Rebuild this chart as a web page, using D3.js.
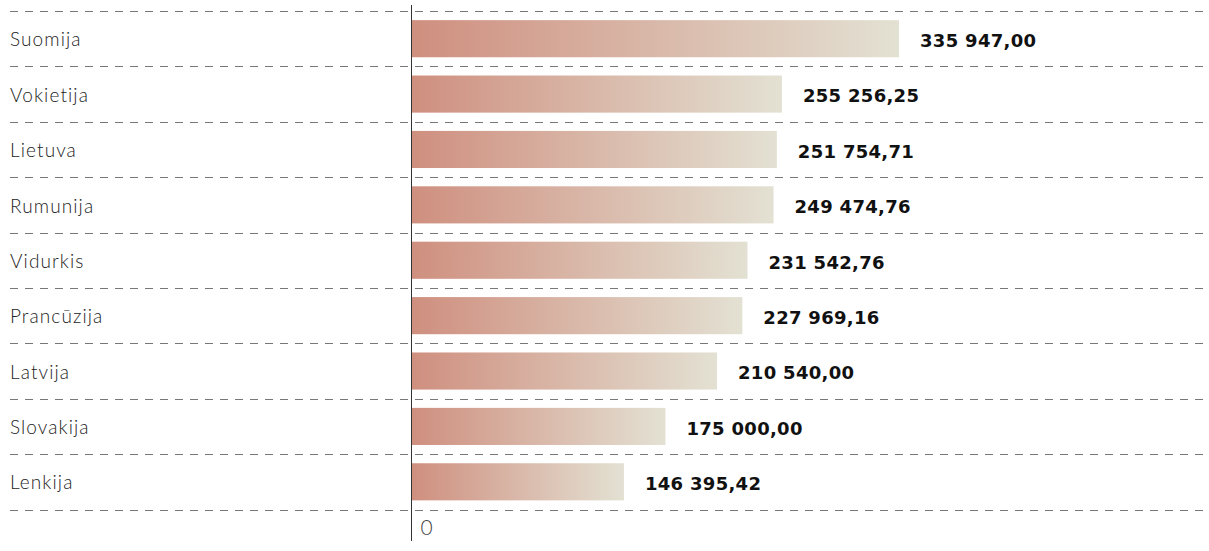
<!DOCTYPE html>
<html>
<head>
<meta charset="utf-8">
<script src="https://cdn.jsdelivr.net/npm/d3@7"></script>
<style>
  body { margin: 0; background: #fff; }
  .cat-label { font-family: Lato, sans-serif; font-weight: 300; font-size: 19px; letter-spacing: 1.1px; fill: #222; }
  .tick-label { font-size: 21px; fill: #444; }
  .val-label { font-family: "DejaVu Sans", sans-serif; font-weight: bold; font-size: 18px; letter-spacing: 0.3px; fill: #111; }
  .grid-line { stroke: #777; stroke-width: 1; stroke-dasharray: 8 7; }
  .axis-line { stroke: #333; stroke-width: 1; }
</style>
</head>
<body>
<svg id="chart"></svg>
<script>
'use strict';

// data
const countries = ['Suomija', 'Vokietija', 'Lietuva', 'Rumunija', 'Vidurkis', 'Prancūzija', 'Latvija', 'Slovakija', 'Lenkija'];
const values = [335947.00, 255256.25, 251754.71, 249474.76, 231542.76, 227969.16, 210540.00, 175000.00, 146395.42];
const xTicks = [0];

(() => {
  const W = 1209, H = 551;
  const svg = d3.select('#chart').attr('width', W).attr('height', H);

  const locale = d3.formatLocale({ decimal: ',', thousands: ' ', grouping: [3], currency: ['', ''] });
  const fmt = locale.format(',.2f');

  const x = d3.scaleLinear().domain([0, 400000]).range([411.5, 992]);
  const rows = d3.scaleBand().domain(countries).range([11, 509.5]);
  const barH = rows.bandwidth() * 0.67;

  //gradient
  const grad = svg.append('defs').append('linearGradient')
    .attr('id', 'barGrad')
    .attr('x1', '0%').attr('x2', '100%').attr('y1', '0%').attr('y2', '0%');
  grad.append('stop').attr('offset', '0%').attr('stop-color', '#cf8f7f');
  grad.append('stop').attr('offset', '100%').attr('stop-color', '#e3e1d3');

  //dashed row lines
  const lineYs = countries.map((c) => rows(c)).concat([rows.range()[1]]);
  svg.selectAll('.grid-line')
    .data(lineYs)
    .join('line')
    .attr('class', 'grid-line')
    .attr('x1', 10)
    .attr('x2', 1203)
    .attr('y1', (d) => Math.round(d) + 0.5)
    .attr('y2', (d) => Math.round(d) + 0.5);

  //bars
  const data = countries.map((c, i) => ({ name: c, value: values[i] }));
  svg.selectAll('.bar')
    .data(data)
    .join('rect')
    .attr('class', 'bar')
    .attr('x', x(0))
    .attr('y', (d) => rows(d.name) + (rows.bandwidth() - barH) / 2)
    .attr('width', (d) => x(d.value) - x(0))
    .attr('height', barH)
    .attr('fill', 'url(#barGrad)');

  //category labels
  svg.selectAll('.cat-label')
    .data(data)
    .join('text')
    .attr('class', 'cat-label')
    .attr('x', 10)
    .attr('y', (d) => rows(d.name) + rows.bandwidth() / 2 + 1)
    .attr('dy', '0.35em')
    .text((d) => d.name);

  //value labels
  svg.selectAll('.val-label')
    .data(data)
    .join('text')
    .attr('class', 'val-label')
    .attr('x', (d) => x(d.value) + 21)
    .attr('y', (d) => rows(d.name) + rows.bandwidth() / 2 + 2)
    .attr('dy', '0.35em')
    .text((d) => fmt(d.value));

  //vertical axis line
  svg.append('line')
    .attr('class', 'axis-line')
    .attr('x1', x(0)).attr('x2', x(0))
    .attr('y1', 5).attr('y2', 541);

  //x tick label
  svg.selectAll('.tick-label')
    .data(xTicks)
    .join('text')
    .attr('class', 'cat-label tick-label')
    .attr('x', (d) => x(d) + 9)
    .attr('y', 528)
    .attr('dy', '0.35em')
    .text((d) => d);
})();
</script>
</body>
</html>
